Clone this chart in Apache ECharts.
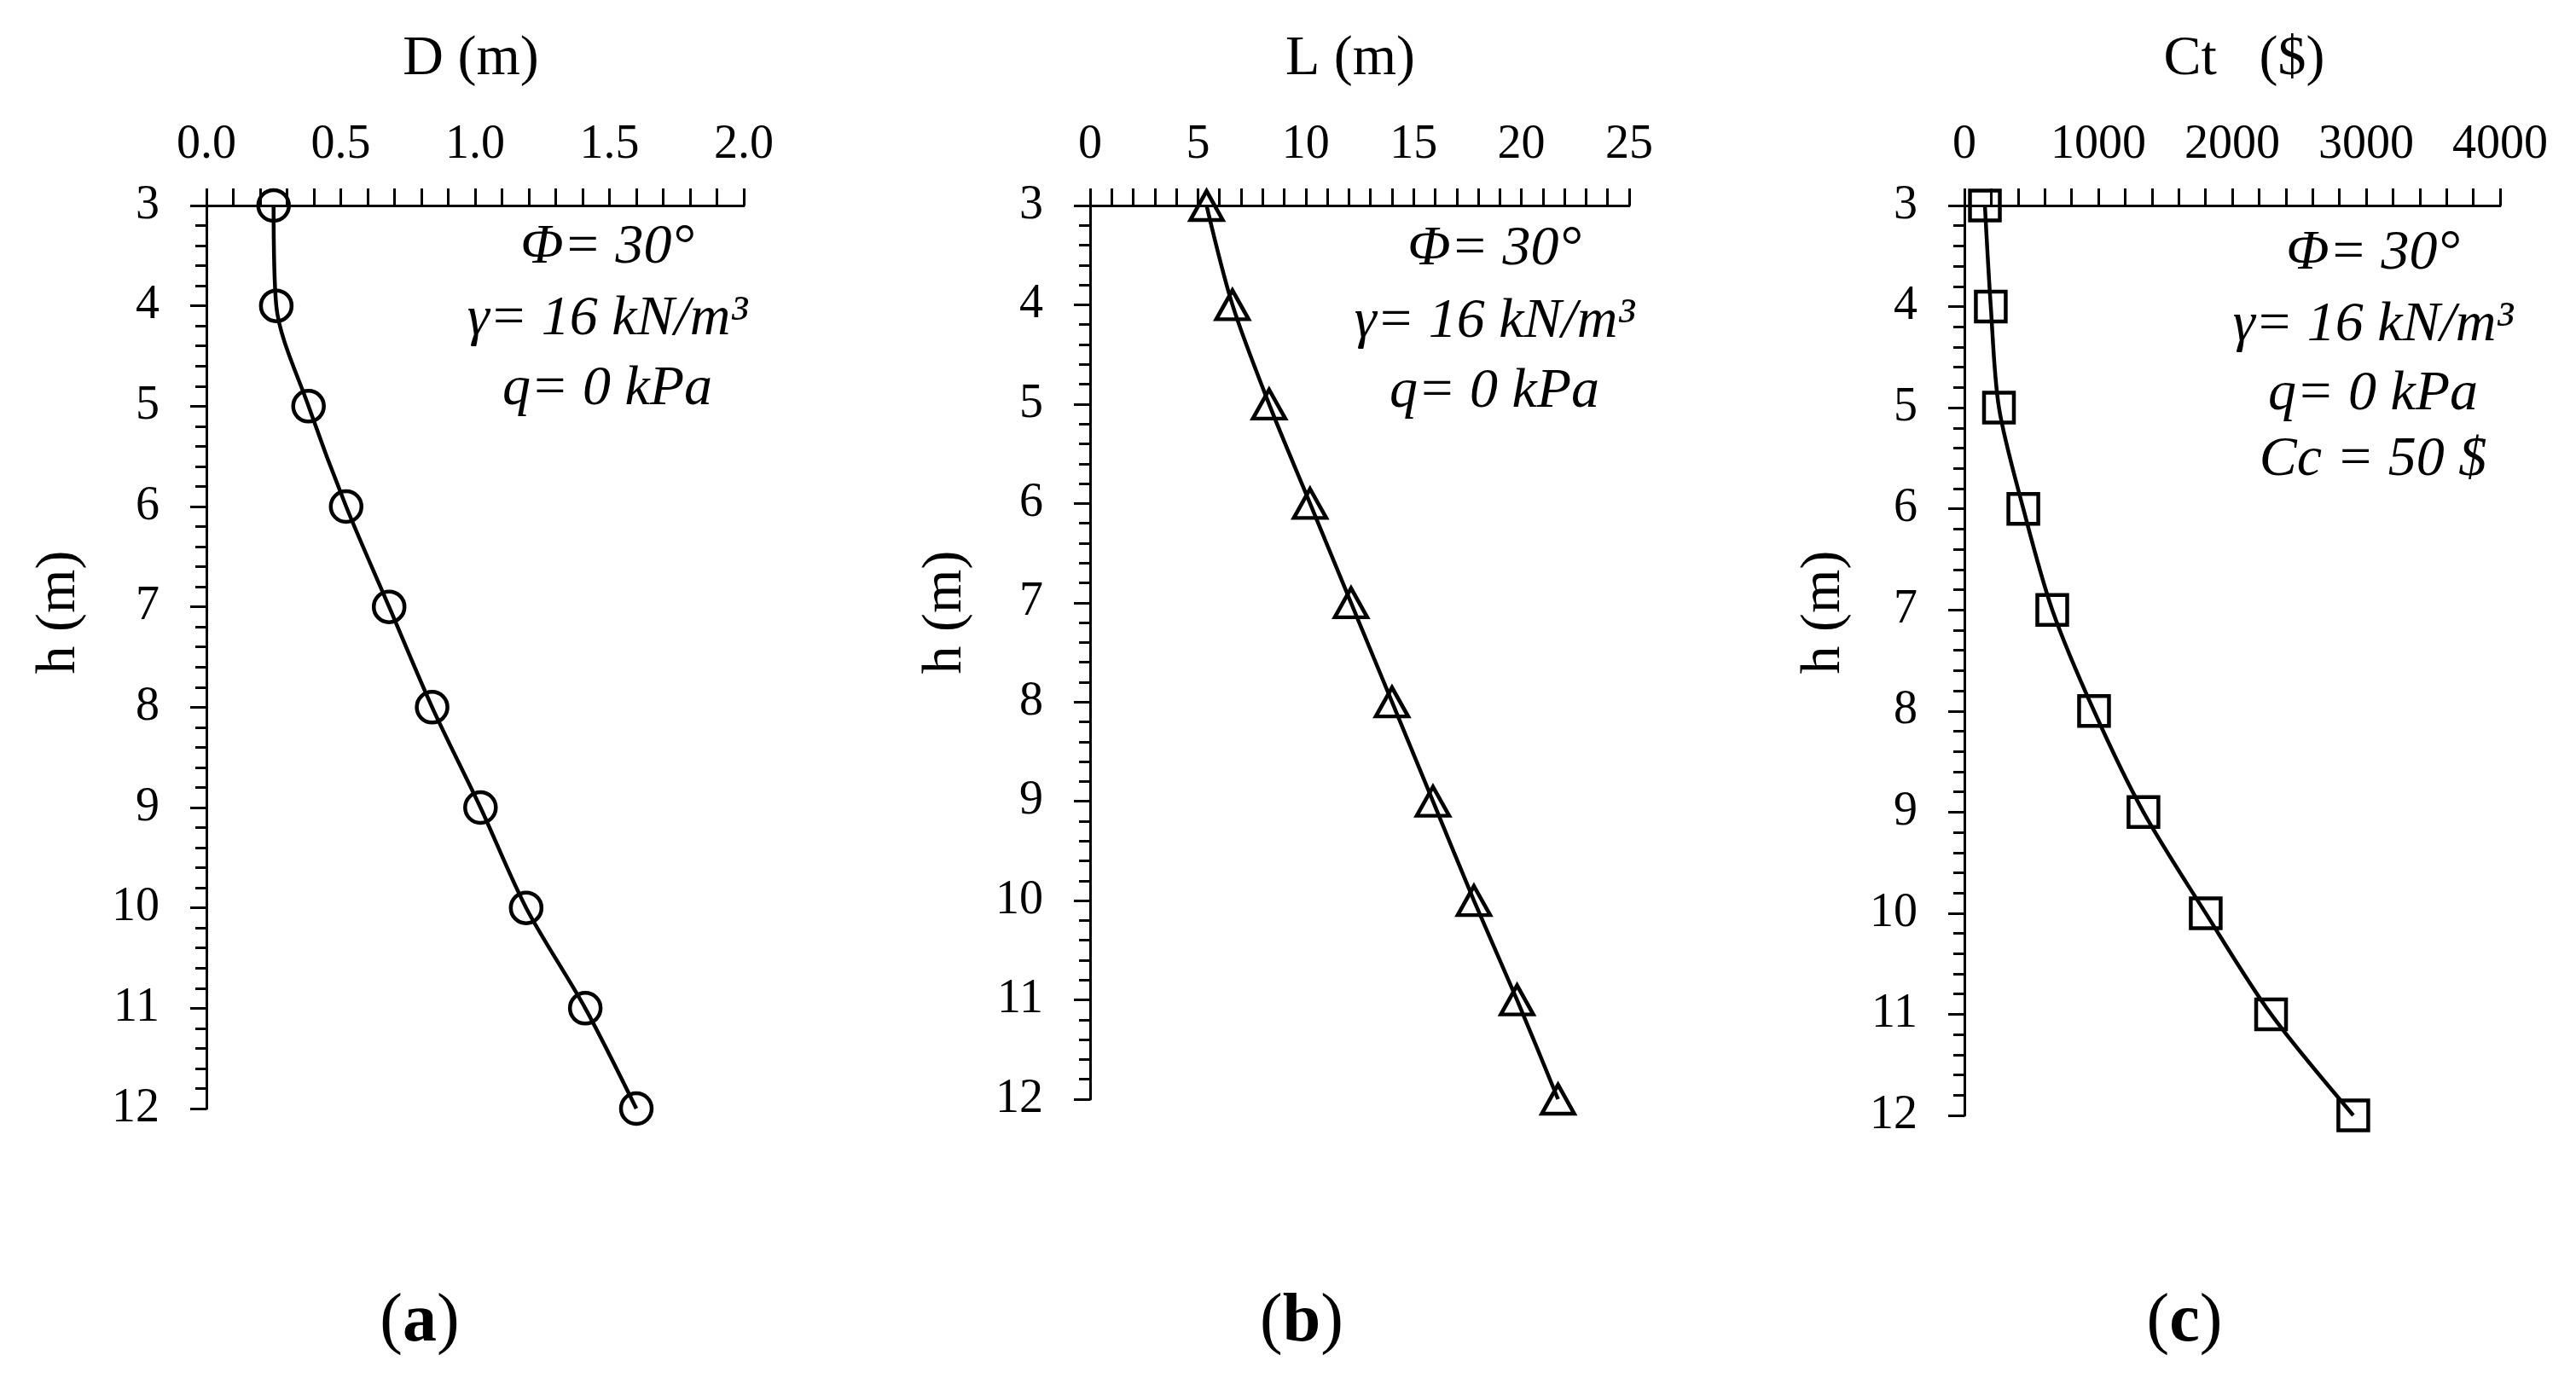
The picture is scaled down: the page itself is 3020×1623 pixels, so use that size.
<!DOCTYPE html>
<html><head><meta charset="utf-8">
<script src="https://cdn.jsdelivr.net/npm/echarts/dist/echarts.min.js"></script>
<style>html,body{margin:0;padding:0;background:#fff;}#c{width:3020px;height:1623px;}</style>
</head><body><div id="c"></div>
<script>
// ---- data ----
const hValues  = [3, 4, 5, 6, 7, 8, 9, 10, 11, 12];
const dValues  = [0.25, 0.26, 0.38, 0.52, 0.68, 0.84, 1.02, 1.19, 1.41, 1.60];
const lValues  = [5.4, 6.6, 8.3, 10.2, 12.1, 14.0, 15.9, 17.8, 19.8, 21.7];
const ctValues = [153, 197, 258, 440, 656, 968, 1337, 1802, 2290, 2904];
const dTicks  = [0, 0.5, 1.0, 1.5, 2.0];
const lTicks  = [0, 5, 10, 15, 20, 25];
const ctTicks = [0, 1000, 2000, 3000, 4000];
const hTicks  = [3, 4, 5, 6, 7, 8, 9, 10, 11, 12];
const annoAB = ['Φ= 30°', 'γ= 16 kN/m³', 'q= 0 kPa'];
const annoC  = ['Φ= 30°', 'γ= 16 kN/m³', 'q= 0 kPa', 'Cc = 50 $'];

const F = 'Liberation Serif';
const K = '#000';
const chart = echarts.init(document.getElementById('c'), null, {renderer:'canvas'});

const grids = [
  {left:242, top:241, width:630, height:1059},
  {left:1278, top:241, width:632, height:1048},
  {left:2303, top:241, width:628, height:1067}
];

function xAxisCfg(gi, ticks, fmt) {
  return {
    type:'value', gridIndex:gi, position:'top',
    min:ticks[0], max:ticks[ticks.length-1], interval:ticks[1]-ticks[0],
    axisLine:{show:true, onZero:false, lineStyle:{color:K, width:3}},
    axisTick:{show:true, inside:false, length:20, lineStyle:{color:K, width:3}},
    minorTick:{show:true, splitNumber:5, length:20, lineStyle:{color:K, width:3}},
    splitLine:{show:false}, minorSplitLine:{show:false},
    axisLabel:{show:true, fontFamily:F, fontSize:56, color:K, margin:43,
      showMinLabel:true, showMaxLabel:true, hideOverlap:false, formatter:fmt}
  };
}
function yAxisCfg(gi) {
  return {
    type:'value', gridIndex:gi, position:'left', inverse:true,
    min:hTicks[0], max:hTicks[hTicks.length-1], interval:hTicks[1]-hTicks[0],
    axisLine:{show:true, onZero:false, lineStyle:{color:K, width:3}},
    axisTick:{show:true, inside:false, length:19, lineStyle:{color:K, width:3}},
    minorTick:{show:true, splitNumber:5, length:13, lineStyle:{color:K, width:3}},
    splitLine:{show:false}, minorSplitLine:{show:false},
    axisLabel:{show:true, fontFamily:F, fontSize:56, color:K, margin:55,
      showMinLabel:true, showMaxLabel:true, hideOverlap:false}
  };
}
function seriesCfg(gi, xs, symbol, size) {
  return {
    type:'line', xAxisIndex:gi, yAxisIndex:gi,
    data:hValues.map((h,i)=>[xs[i], h]),
    smooth:0.3, clip:false, symbol:symbol, symbolSize:size, showSymbol:true,
    lineStyle:{color:K, width:4.5},
    itemStyle:{color:'rgba(255,255,255,0)', borderColor:K, borderWidth:4.5},
    emphasis:{disabled:true}, animation:false, z:3
  };
}

const graphic = [];
function txt(x, y, text, size, extra) {
  graphic.push(Object.assign({type:'text', x:x, y:y, z:10,
    style:Object.assign({text:text, fontFamily:F, fontSize:size, fill:K,
      align:'center', verticalAlign:'middle'}, extra && extra.style || {})},
    extra && extra.el || {}));
}
// axis names
txt(552, 70, 'D (m)', 66);
txt(1583, 70, 'L (m)', 66);
txt(2631, 70, 'Ct   ($)', 66);
// h (m)
txt(70, 718, 'h (m)', 66, {el:{rotation:Math.PI/2}});
txt(1109, 718, 'h (m)', 66, {el:{rotation:Math.PI/2}});
txt(2139, 718, 'h (m)', 66, {el:{rotation:Math.PI/2}});
// annotations
const yA = [291, 375, 457];
annoAB.forEach((t,i)=>txt(712, yA[i], t, 66, {style:{fontStyle:'italic'}}));
const yB = [293, 378, 460];
annoAB.forEach((t,i)=>txt(1752, yB[i], t, 66, {style:{fontStyle:'italic'}}));
const yC = [298, 382, 463, 540];
annoC.forEach((t,i)=>txt(2782, yC[i], t, 66, {style:{fontStyle:'italic'}}));
// panel labels
const bold = {rich:{b:{fontFamily:F, fontSize:80, fontWeight:'bold', fill:K}}};
txt(492, 1551, '({b|a})', 80, {style:bold});
txt(1526, 1551, '({b|b})', 80, {style:bold});
txt(2561, 1551, '({b|c})', 80, {style:bold});

chart.setOption({
  backgroundColor:'#fff',
  animation:false,
  grid:grids.map(g=>Object.assign({containLabel:false, outerBoundsMode:'none'}, g)),
  xAxis:[
    xAxisCfg(0, dTicks, v=>v.toFixed(1)),
    xAxisCfg(1, lTicks, v=>String(v)),
    xAxisCfg(2, ctTicks, v=>String(v))
  ],
  yAxis:[yAxisCfg(0), yAxisCfg(1), yAxisCfg(2)],
  series:[
    seriesCfg(0, dValues, 'circle', 36),
    seriesCfg(1, lValues, 'triangle', [38, 34]),
    seriesCfg(2, ctValues, 'rect', [35, 35])
  ],
  graphic:graphic
});
</script></body></html>
